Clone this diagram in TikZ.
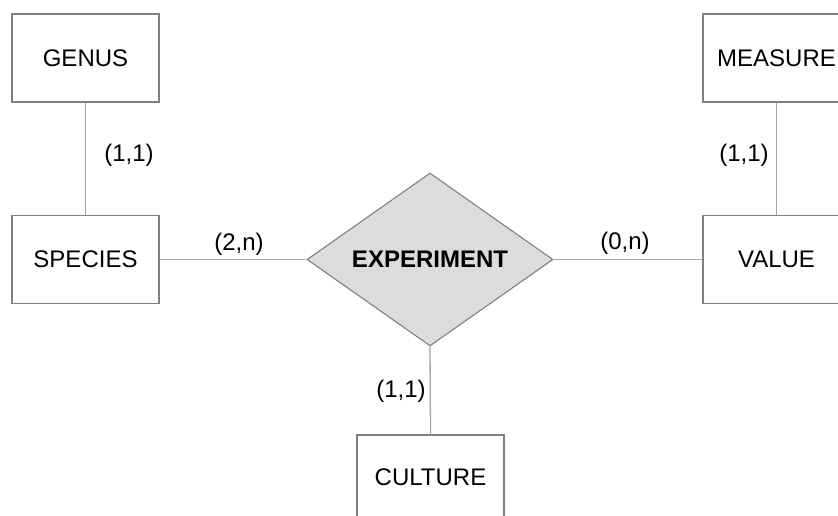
\documentclass[tikz,border=0pt]{standalone}
\usepackage{fontspec}
\setmainfont{Liberation Sans}
\usetikzlibrary{shapes.geometric}
\definecolor{boxline}{RGB}{128,128,128}
\definecolor{conn}{RGB}{165,165,165}
\definecolor{relfill}{RGB}{220,220,220}
\begin{document}
\begin{tikzpicture}[x=1pt,y=1pt,
  entity/.style={draw=boxline, line width=1.1pt, fill=white, minimum width=147pt, minimum height=88pt, inner sep=0pt, font=\fontsize{24}{27}\selectfont},
  relation/.style={diamond, draw=boxline, line width=1.1pt, fill=relfill, aspect=1.42, minimum width=246pt, minimum height=173pt, inner sep=0pt, font=\fontsize{24}{27}\selectfont\bfseries},
  link/.style={draw=conn, line width=1.3pt},
  label/.style={font=\fontsize{24}{27}\selectfont},
  card/.style={font=\fontsize{24}{27}\selectfont, inner sep=0pt}]
\useasboundingbox (0,0) rectangle (838,516);
\begin{scope}
\clip (0,0) rectangle (838,516);
\node[entity] (genus) at (85.5,458) {GENUS};
\node[entity] (species) at (85.5,256.5) {SPECIES};
\node[relation] (exp) at (430,256.5) {EXPERIMENT};
\node[entity] (value) at (776.5,256.5) {};
\node[entity] (measure) at (776.5,458) {};
\node[entity] (culture) at (430.5,37) {};
\node[label] (valuet) at (776.5,256.5) {VALUE};
\node[label] (measuret) at (776.5,458) {MEASURE};
\node[label] (culturet) at (430.5,39) {CULTURE};
\end{scope}
\draw[link] (genus.south) -- (species.north);
\draw[link] (measure.south) -- (value.north);
\draw[link] (species.east) -- (exp.west);
\draw[link] (exp.east) -- (value.west);
\draw[link] (exp.south) -- (culture.north);
\node[card] (c1) at (129,361) {(1,1)};
\node[card] (c2) at (744,361) {(1,1)};
\node[card] (c3) at (239,272) {(2,n)};
\node[card] (c4) at (625,273) {(0,n)};
\node[card] (c5) at (401,125) {(1,1)};
\end{tikzpicture}
\end{document}
